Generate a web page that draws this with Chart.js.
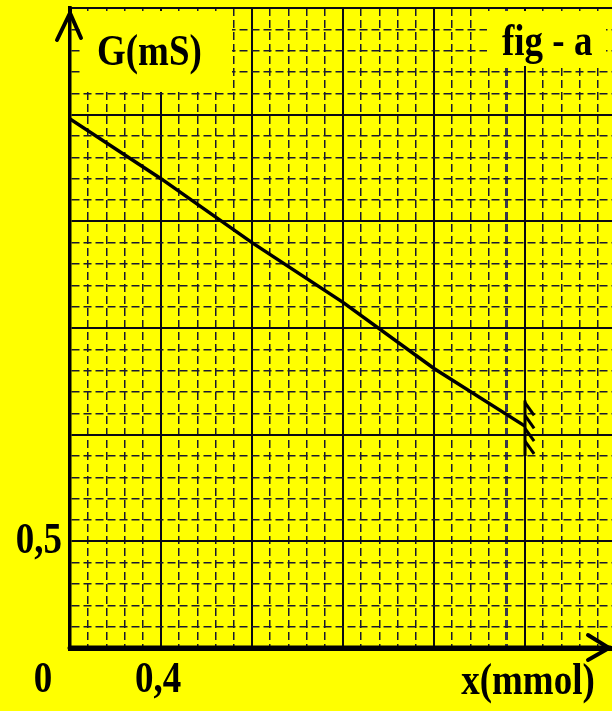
<!DOCTYPE html>
<html>
<head>
<meta charset="utf-8">
<script src="https://cdn.jsdelivr.net/npm/chart.js@4/dist/chart.umd.min.js"></script>
<style>
  html, body { margin: 0; padding: 0; background: #ffff00; overflow: hidden; width: 612px; height: 711px; }
  #wrap { position: relative; width: 616px; height: 711px; }
</style>
</head>
<body>
<div id="wrap"><canvas id="c" width="616" height="711"></canvas></div>
<script>
// amount of substance x (mmol) against conductance G (mS)
const xValues = [0, 0.4, 0.8, 1.2, 1.6, 2.0];
const gValues = [2.48, 2.20, 1.90, 1.62, 1.31, 1.04];

// break symbol where the curve stops: a short bar and slanted strokes
const breakBarX = [2.0, 2.0];
const breakBarG = [1.16, 0.90];
const breakStrokeX = [2.0, 2.04];
const breakStrokeG = [1.15, 1.09, 1.03, 0.97];
const breakStrokeDrop = 0.06;

// axis ranges and graph-paper steps
const xMax = 2.4, xMinor = 0.08, xMajor = 0.4;
const yMax = 3.0, yMinor = 0.1, yMajor = 0.5;

// labelled graduations
const xLabelValues = [0.4];
const xLabelTexts = ['0,4'];
const yLabelValues = [0.5];
const yLabelTexts = ['0,5'];
const originText = '0';
const xTitle = 'x(mmol)';
const yTitle = 'G(mS)';
const figTitle = 'fig - a';

const PAPER = '#ffff00';
const INK = '#000000';
const FONT = 'bold 37px "Liberation Serif", "Times New Roman", serif';
const STRETCH = 1.22;

const isMultiple = (v, step) => Math.abs(v / step - Math.round(v / step)) < 1e-6;

function gridWidth(ctx, major, extra) {
  if (!ctx.tick) return 1;
  const v = ctx.tick.value;
  if (isMultiple(v, major)) return 2;
  if (extra !== undefined && Math.abs(v - extra) < 1e-6) return 3;
  return 1.5;
}
function gridColor(ctx, major, extra) {
  if (!ctx.tick) return INK;
  const v = ctx.tick.value;
  if (extra !== undefined && Math.abs(v - extra) < 1e-6) return '#3a3a4a';
  return isMultiple(v, major) ? '#0a0a14' : '#1a1a30';
}
function gridDash(ctx, major) {
  if (!ctx.tick) return [];
  return isMultiple(ctx.tick.value, major) ? [] : [8, 4];
}

function stretchedText(c, text, x, baseline, align) {
  c.save();
  c.font = FONT;
  c.fillStyle = INK;
  c.textAlign = align;
  c.textBaseline = 'alphabetic';
  c.translate(x, baseline);
  c.scale(1, STRETCH);
  c.fillText(text, 0, 0);
  c.restore();
}

const decor = {
  id: 'decor',
  beforeDatasetsDraw(chart) {
    // plain label boxes laid over the graph paper
    const c = chart.ctx;
    c.save();
    c.fillStyle = PAPER;
    c.fillRect(83, 11, 149, 81);
    c.fillRect(487, 11, 119, 55);
    c.restore();
  },
  afterDraw(chart) {
    const c = chart.ctx;
    const xs = chart.scales.x, ys = chart.scales.y;
    const a = chart.chartArea;
    const x0 = xs.getPixelForValue(0);
    const y0 = ys.getPixelForValue(0);

    // arrow heads
    c.save();
    c.strokeStyle = INK;
    c.lineCap = 'round';
    c.lineJoin = 'round';
    c.lineWidth = 4;
    c.beginPath();
    c.moveTo(x0 - 13, a.top + 32);
    c.lineTo(x0, a.top + 5);
    c.lineTo(x0 + 11, a.top + 30);
    c.stroke();
    c.beginPath();
    c.moveTo(x0, a.top);
    c.lineTo(x0, a.top + 6);
    c.stroke();
    c.beginPath();
    c.moveTo(x0, y0);
    c.lineTo(610, y0);
    c.lineWidth = 5;
    c.stroke();
    c.lineWidth = 4;
    c.beginPath();
    c.moveTo(588, y0 - 13);
    c.lineTo(609, y0);
    c.lineTo(588, y0 + 12);
    c.stroke();
    c.restore();

    // graduations and titles
    xLabelValues.forEach((v, i) => stretchedText(c, xLabelTexts[i], xs.getPixelForValue(v) - 3, y0 + 44, 'center'));
    yLabelValues.forEach((v, i) => stretchedText(c, yLabelTexts[i], x0 - 8, ys.getPixelForValue(v) + 12, 'right'));
    stretchedText(c, originText, x0 - 27, y0 + 44, 'center');
    stretchedText(c, xTitle, 528, y0 + 46, 'center');
    stretchedText(c, yTitle, 97, 65, 'left');
    stretchedText(c, figTitle, 502, 55, 'left');
  }
};

const lineData = xValues.map((x, i) => ({ x, y: gValues[i] }));
const breakDatasets = [
  { data: breakBarX.map((x, i) => ({ x, y: breakBarG[i] })) },
  ...breakStrokeG.map(g => ({ data: [{ x: breakStrokeX[0], y: g }, { x: breakStrokeX[1], y: g - breakStrokeDrop }] }))
].map(d => ({ ...d, borderColor: INK, borderWidth: 3, pointRadius: 0, showLine: true, tension: 0 }));

new Chart(document.getElementById('c'), {
  type: 'scatter',
  data: {
    datasets: [
      { data: lineData, borderColor: INK, borderWidth: 3.5, pointRadius: 0, showLine: true, tension: 0 },
      ...breakDatasets
    ]
  },
  options: {
    responsive: false,
    animation: false,
    layout: { padding: { left: 70, top: 8, right: 0, bottom: 63 } },
    plugins: { legend: { display: false }, tooltip: { enabled: false } },
    scales: {
      x: {
        type: 'linear', min: 0, max: xMax,
        ticks: { display: false, stepSize: xMinor },
        grid: { drawTicks: false, color: ctx => gridColor(ctx, xMajor, 1.92), lineWidth: ctx => gridWidth(ctx, xMajor, 1.92) },
        border: { display: true, color: INK, width: 5, dash: ctx => gridDash(ctx, xMajor) }
      },
      y: {
        type: 'linear', min: 0, max: yMax,
        ticks: { display: false, stepSize: yMinor },
        grid: { drawTicks: false, color: ctx => gridColor(ctx, yMajor), lineWidth: ctx => gridWidth(ctx, yMajor) },
        border: { display: true, color: INK, width: 3.5, dash: ctx => gridDash(ctx, yMajor) }
      }
    }
  },
  plugins: [decor]
});
</script>
</body>
</html>
